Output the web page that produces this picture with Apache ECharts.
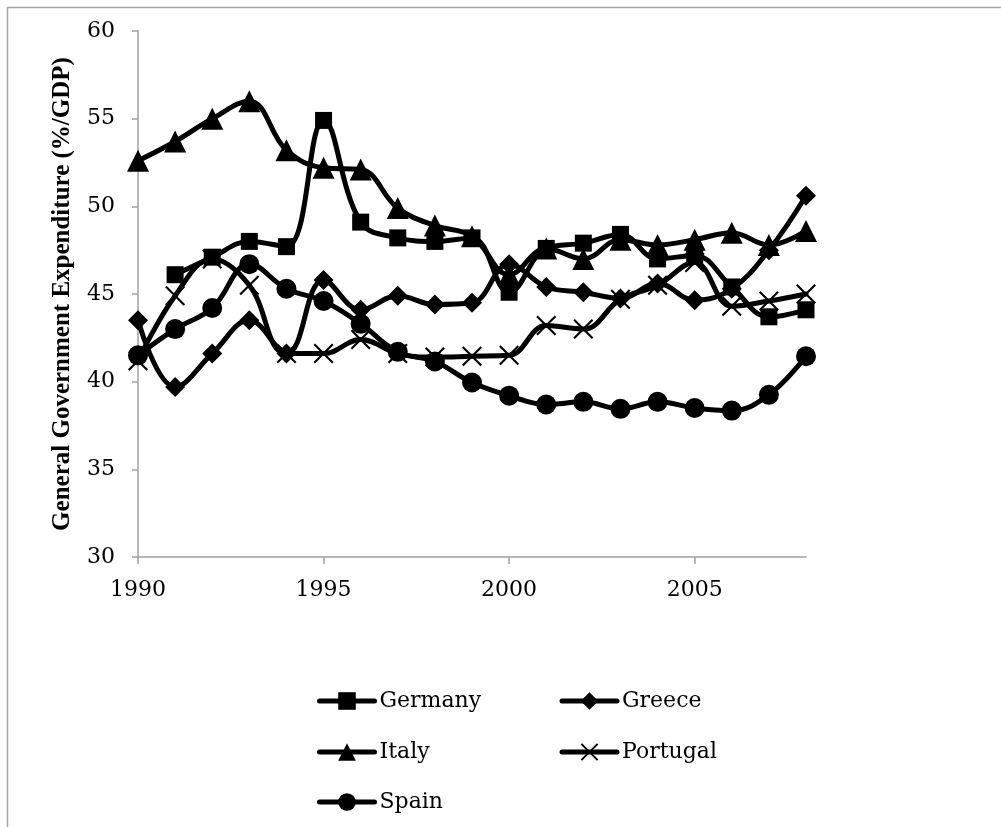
<!DOCTYPE html>
<html>
<head>
<meta charset="utf-8">
<style>
  html, body { margin: 0; padding: 0; background: #fff; }
  #chart { width: 1001px; height: 827px; }
</style>
<script src="https://cdn.jsdelivr.net/npm/echarts@6/dist/echarts.min.js"></script>
</head>
<body>
<div id="chart"></div>
<script>
// General government expenditure, % of GDP, 1990-2008
const years = [1990, 1991, 1992, 1993, 1994, 1995, 1996, 1997, 1998, 1999,
               2000, 2001, 2002, 2003, 2004, 2005, 2006, 2007, 2008];
const germany  = [null, 46.1, 47.1, 48.0, 47.7, 54.9, 49.1, 48.2, 48.0, 48.2,
                  45.1, 47.6, 47.9, 48.4, 47.0, 47.2, 45.4, 43.7, 44.1];
const greece   = [43.5, 39.7, 41.6, 43.5, 41.6, 45.8, 44.1, 44.9, 44.4, 44.5,
                  46.7, 45.4, 45.1, 44.75, 45.6, 44.65, 45.3, 47.5, 50.6];
const italy    = [52.6, 53.7, 55.0, 56.0, 53.2, 52.2, 52.1, 49.9, 48.9, 48.3,
                  46.1, 47.6, 47.0, 48.1, 47.8, 48.1, 48.5, 47.8, 48.6];
const portugal = [41.2, 44.9, 47.0, 45.5, 41.6, 41.6, 42.4, 41.6, 41.4, 41.45,
                  41.5, 43.2, 43.0, 44.7, 45.5, 46.8, 44.3, 44.6, 45.0];
const spain    = [41.5, 43.0, 44.2, 46.7, 45.3, 44.6, 43.3, 41.7, 41.15, 39.95,
                  39.2, 38.7, 38.85, 38.45, 38.85, 38.5, 38.35, 39.25, 41.45];
const xTickLabels = [1990, 1995, 2000, 2005];
const yTickLabels = [30, 35, 40, 45, 50, 55, 60];

const FONT = 'DejaVu Serif';
const crossPath = 'path://M0,1.5L1.5,0L20,18.5L18.5,20ZM18.5,0L20,1.5L1.5,20L0,18.5Z';

function pairs(vals) {
  return years.map((y, i) => [y, vals[i]]);
}

function lineSeries(name, vals, symbol, size) {
  return {
    name: name,
    type: 'line',
    data: pairs(vals),
    smooth: 0.4,
    symbol: symbol,
    symbolSize: size,
    showAllSymbol: true,
    lineStyle: { color: '#000', width: 5, cap: 'round', join: 'round' },
    itemStyle: { color: '#000', borderColor: '#000', borderWidth: 0, opacity: 1 },
    emphasis: { disabled: true }
  };
}

const series = [
  lineSeries('Germany', germany, 'rect', 17),
  lineSeries('Greece', greece, 'diamond', 20),
  lineSeries('Italy', italy, 'triangle', 22),
  lineSeries('Portugal', portugal, crossPath, 20),
  lineSeries('Spain', spain, 'circle', 20)
];

function legendRow(names, top) {
  return {
    data: names,
    left: 312,
    top: top,
    orient: 'horizontal',
    itemWidth: 55,
    itemHeight: 22,
    itemGap: 10,
    selectedMode: false,
    lineStyle: { width: 5, cap: 'round' },
    textStyle: { fontFamily: FONT, fontSize: 22, color: '#000', width: 170, lineHeight: 26 }
  };
}

const chart = echarts.init(document.getElementById('chart'), null, { renderer: 'canvas' });
chart.setOption({
  animation: false,
  backgroundColor: '#fff',
  grid: { left: 138, right: 195, top: 31, bottom: 270, containLabel: false },
  xAxis: {
    type: 'value',
    min: 1990,
    max: 2008,
    interval: 5,
    axisLine: { show: true, lineStyle: { color: '#a0a0a0', width: 1.5 } },
    axisTick: { show: true, length: 7, customValues: xTickLabels, lineStyle: { color: '#a0a0a0', width: 1.5 } },
    axisLabel: { customValues: xTickLabels, margin: 22, fontFamily: FONT, fontSize: 22, color: '#000',
                 formatter: v => String(v) },
    splitLine: { show: false }
  },
  yAxis: {
    type: 'value',
    min: 30,
    max: 60,
    interval: 5,
    name: 'General Government Expenditure (%/GDP)',
    nameLocation: 'middle',
    nameGap: 63,
    nameTextStyle: { fontFamily: 'Liberation Serif', fontWeight: 'bold', fontSize: 25, color: '#000' },
    axisLine: { show: true, lineStyle: { color: '#a0a0a0', width: 1.5 } },
    axisTick: { show: true, length: 6, lineStyle: { color: '#a0a0a0', width: 1.5 } },
    axisLabel: { margin: 23, fontFamily: FONT, fontSize: 22, color: '#000',
                 formatter: v => (yTickLabels.indexOf(v) >= 0 ? String(v) : '') },
    splitLine: { show: false }
  },
  legend: [
    legendRow(['Germany', 'Greece'], 683),
    legendRow(['Italy', 'Portugal'], 734),
    legendRow(['Spain'], 784)
  ],
  graphic: [{
    type: 'rect',
    shape: { x: 7.5, y: 7.5, width: 1100, height: 900 },
    style: { fill: 'none', stroke: '#a6a6a6', lineWidth: 1.5 },
    silent: true,
    z: -1
  }],
  series: series
});
</script>
</body>
</html>
